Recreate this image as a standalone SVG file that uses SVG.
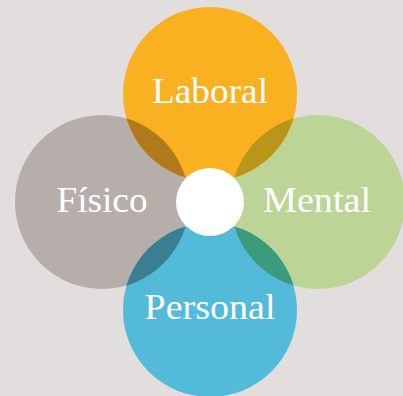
<svg xmlns="http://www.w3.org/2000/svg" width="403" height="396" viewBox="0 0 403 396">
<style>
.lbl{font-family:"Liberation Serif","DejaVu Serif",serif;font-size:36px;fill:#ffffff;text-anchor:middle}
</style>
<defs>
<clipPath id="cTop"><circle cx="210" cy="94" r="87"/></clipPath>
<clipPath id="cBot"><circle cx="210" cy="310" r="87"/></clipPath>
</defs>
<rect width="403" height="396" fill="#e1dedd"/>
<g id="fisico"><circle cx="102" cy="202" r="87" fill="#b5aeab"/></g>
<g id="mental"><circle cx="318" cy="202" r="87" fill="#bdd497"/></g>
<g id="laboral"><circle cx="210" cy="94" r="87" fill="#f9b122"/></g>
<g id="personal"><circle cx="210" cy="310" r="87" fill="#53bada"/></g>
<g id="overlaps">
<circle cx="102" cy="202" r="87" fill="#b07a1c" clip-path="url(#cTop)"/>
<circle cx="318" cy="202" r="87" fill="#b8961a" clip-path="url(#cTop)"/>
<circle cx="102" cy="202" r="87" fill="#3a7f91" clip-path="url(#cBot)"/>
<circle cx="318" cy="202" r="87" fill="#3c9a7d" clip-path="url(#cBot)"/>
</g>
<g id="centro"><circle cx="210" cy="202" r="34" fill="#ffffff"/></g>
<g id="labels">
<text class="lbl" x="210" y="102.5" textLength="116" lengthAdjust="spacingAndGlyphs">Laboral</text>
<text class="lbl" x="102" y="211.7" textLength="91" lengthAdjust="spacingAndGlyphs">Físico</text>
<text class="lbl" x="317" y="211.7" textLength="108" lengthAdjust="spacingAndGlyphs">Mental</text>
<text class="lbl" x="210" y="319.3" textLength="131" lengthAdjust="spacingAndGlyphs">Personal</text>
</g>
<g id="connectors"/>
</svg>
